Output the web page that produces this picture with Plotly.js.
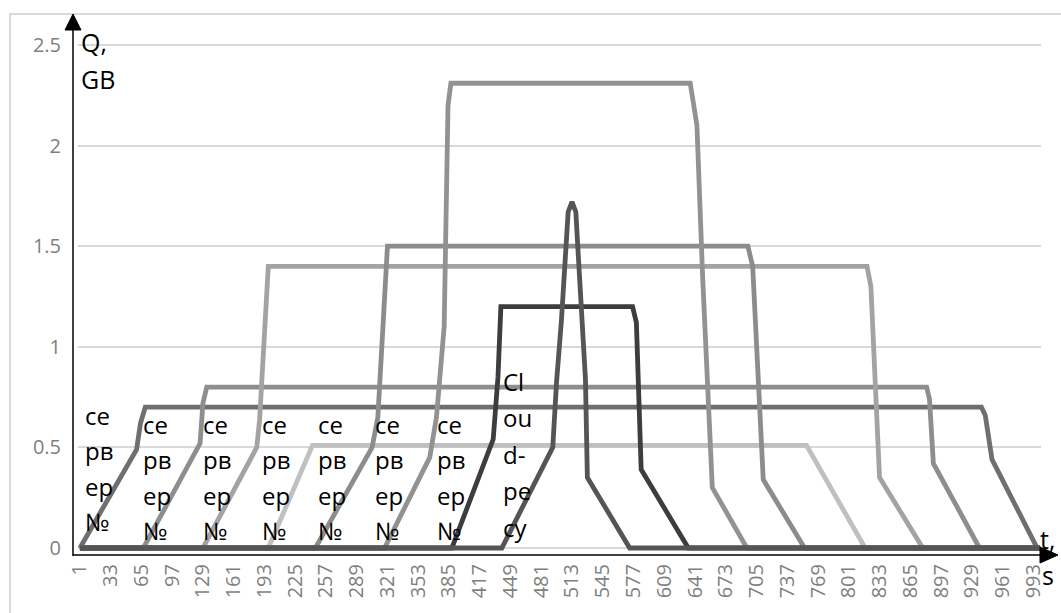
<!DOCTYPE html>
<html><head><meta charset="utf-8">
<script src="https://cdn.plot.ly/plotly-3.0.1.min.js"></script>
<style>html,body{margin:0;padding:0;background:#fff}#chart{width:1061px;height:613px}</style>
</head><body><div id="chart"></div>
<script>
// x tick labels (time, s)
const tickLabels = [1,33,65,97,129,161,193,225,257,289,321,353,385,417,449,481,513,545,577,609,641,673,705,737,769,801,833,865,897,929,961,993];
const yTicks = [0,0.5,1,1.5,2,2.5];
const yTickText = ['0','0.5','1','1.5','2','2.5'];

// series: time points (s) and load Q (GB)
const s1T = [1,60,64,69,939,943,950,997,1000];
const s1Q = [0,0.49,0.62,0.70,0.70,0.66,0.44,0,0];
const s2T = [1,67,126,129,133,882,885,889,937,1000];
const s2Q = [0,0,0.52,0.72,0.80,0.80,0.74,0.42,0,0];
const s3T = [1,129,185,188,197,820,824,833,878,1000];
const s3Q = [0,0,0.50,0.64,1.40,1.40,1.30,0.35,0,0];
const s4T = [1,197,243,757,818,1000];
const s4Q = [0,0,0.51,0.51,0,0];
const s5T = [1,246,305,311,321,696,701,712,755,1000];
const s5Q = [0,0,0.50,0.65,1.50,1.50,1.40,0.34,0,0];
const s6T = [1,318,365,372,380,384,387,636,643,649,659,695,1000];
const s6Q = [0,0,0.45,0.65,1.10,2.20,2.31,2.31,2.10,1.34,0.30,0,0];
const s7T = [1,388,431,436,439,576,580,585,634,1000];
const s7Q = [0,0,0.54,0.85,1.20,1.20,1.12,0.39,0,0];
const cloudT = [1,440,493,497,502,506,509,513,517,519,523,527,529,573,1000];
const cloudQ = [0,0,0.50,0.83,1.13,1.50,1.67,1.72,1.67,1.50,1.13,0.84,0.35,0,0];

const serverLabel = ['се','рв','ер','№'];
const cloudLabel = ['Cl','ou','d-','ре','су'];
const yTitle = ['Q,','GB'];
const xTitle = ['t,','s'];

const series = [
  [s1T,s1Q,'#6f6f6f'],
  [s2T,s2Q,'#8e8e8e'],
  [s3T,s3Q,'#a3a3a3'],
  [s4T,s4Q,'#c0c0c0'],
  [s5T,s5Q,'#8c8c8c'],
  [s6T,s6Q,'#929292'],
  [s7T,s7Q,'#3d3d3d'],
  [cloudT,cloudQ,'#555555']
];
const traces = series.map(([t,q,c]) => ({
  x: t, y: q, type: 'scatter', mode: 'lines',
  line: {color: c, width: 4.8}, hoverinfo: 'skip', showlegend: false
}));

// pixel -> paper helpers (layout geometry)
const L = 78, R = 20, T = 43, B = 61, W = 1061, H = 613;
const pw = W - L - R, ph = H - T - B;
const px = x => (x - L) / pw;
const py = y => (H - B - y) / ph;

const FONT = '"Open Sans", "Noto Sans", sans-serif';
const ann = [];
function txt(x, y, s, size) {
  ann.push({xref:'paper', yref:'paper', x: px(x), y: py(y), text: s, showarrow:false,
    xanchor:'left', yanchor:'middle', font:{family:FONT, size:size||24, color:'#000'}});
}
const labelX = [83,141,201,260,316,373,435];
labelX.forEach((x,i) => {
  const y0 = i === 0 ? 415 : 424;
  serverLabel.forEach((s,k) => txt(x, y0 + k*35.5, s));
});
cloudLabel.forEach((s,k) => txt(501, 381 + k*36.5, s));
txt(79, 42, yTitle[0], 25); txt(79, 79, yTitle[1], 25);
txt(1038, 539, xTitle[0], 25); txt(1040, 575, xTitle[1], 25);

const shapes = [
  {type:'rect', xref:'paper', yref:'paper', x0:px(10), x1:px(1080), y0:py(14), y1:py(640),
   line:{color:'#d9d9d9', width:2}, layer:'below'},
  {type:'line', xref:'paper', yref:'paper', x0:px(73), x1:px(73), y0:py(556), y1:py(28),
   line:{color:'#000', width:1.5}},
  {type:'path', xref:'paper', yref:'paper',
   path:`M${px(65)},${py(30)} L${px(73)},${py(14)} L${px(81)},${py(30)} Z`,
   fillcolor:'#000', line:{color:'#000', width:1}},
  {type:'line', xref:'paper', yref:'paper', x0:px(73), x1:px(1042), y0:py(555), y1:py(555),
   line:{color:'#000', width:1.5}},
  {type:'path', xref:'paper', yref:'paper',
   path:`M${px(1040)},${py(547)} L${px(1058)},${py(555)} L${px(1040)},${py(563)} Z`,
   fillcolor:'#000', line:{color:'#000', width:1}}
];

const layout = {
  width: W, height: H,
  margin: {l:L, r:R, t:T, b:B, pad:0},
  paper_bgcolor:'#fff', plot_bgcolor:'#fff',
  showlegend:false,
  xaxis: {type:'linear', range:[-1,1001], tickvals: tickLabels, ticktext: tickLabels.map(String),
    tickangle:-90, showgrid:false, zeroline:false, showline:false, ticks:'',
    ticklabelstandoff:7, tickfont:{family:FONT, size:20, color:'#7f7f7f'}},
  yaxis: {range:[-0.02,2.51], tickvals:yTicks, ticktext:yTickText, showgrid:true,
    gridcolor:'#d9d9d9', gridwidth:2, zeroline:false, showline:false, ticks:'',
    ticklabelstandoff:16, tickfont:{family:FONT, size:20, color:'#7f7f7f'}},
  annotations: ann,
  shapes: shapes
};
Plotly.newPlot('chart', traces, layout, {staticPlot:true, displayModeBar:false});
</script>
</body></html>
